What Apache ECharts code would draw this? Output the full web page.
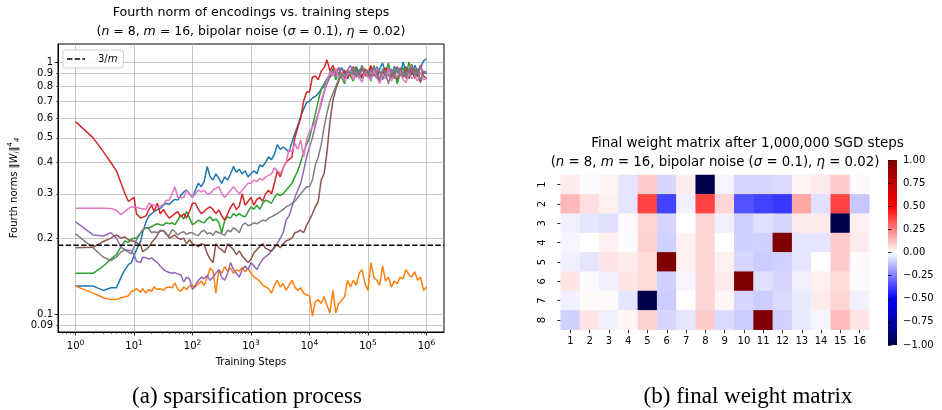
<!DOCTYPE html>
<html><head><meta charset="utf-8">
<script src="https://cdn.jsdelivr.net/npm/echarts@6/dist/echarts.min.js"></script>
<style>html,body{margin:0;padding:0;background:#fff}#c{width:942px;height:410px}</style>
</head><body><div id="c"></div>
<script>
// ---------- DATA ----------
const steps = [1,2,3,4,5,6,7,8,9,
10,11,13,14,16,18,20,22,25,28,32,35,40,45,50,56,63,71,79,89,
100,112,126,141,158,178,200,224,251,282,316,355,398,447,501,562,631,708,794,891,
1000,1122,1259,1413,1585,1778,1995,2239,2512,2818,3162,3548,3981,4467,5012,5623,6310,7079,7943,8913,
10000,11220,12589,14125,15849,17783,19953,22387,25119,28184,31623,35481,39811,44668,50119,56234,63096,70795,79433,89125,
100000,112202,125893,141254,158489,177828,199526,223872,251189,281838,316228,354813,398107,446684,501187,562341,630957,707946,794328,891251,
1000000];

const normBlue = [0.129,0.129,0.124,0.127,0.127,0.14,0.15,0.157,0.16,
0.17,0.18,0.195,0.21,0.232,0.245,0.25,0.255,0.26,0.262,0.27,0.275,0.272,0.28,0.285,0.283,0.295,0.305,0.31,0.30,
0.29,0.31,0.33,0.32,0.335,0.385,0.35,0.34,0.36,0.345,0.33,0.35,0.34,0.36,0.385,0.365,0.375,0.36,0.37,0.35,
0.36,0.37,0.36,0.39,0.385,0.40,0.42,0.41,0.43,0.47,0.45,0.46,0.45,0.44,0.48,0.52,0.56,0.61,0.65,0.69,
0.70,0.72,0.73,0.75,0.78,0.80,0.84,0.87,0.90,0.93,0.89,0.95,0.90,0.86,0.93,0.89,0.96,0.91,0.87,0.93,
0.89,0.95,0.91,0.86,0.94,0.99,0.90,0.93,0.87,0.96,0.92,0.88,1.00,0.91,0.94,0.89,0.97,0.92,0.95,1.01,
1.03];
const normOrange = [0.129,0.121,0.116,0.114,0.114,0.116,0.117,0.118,0.123,
0.124,0.126,0.122,0.126,0.121,0.125,0.123,0.128,0.125,0.126,0.124,0.127,0.128,0.127,0.133,0.125,0.123,0.128,0.125,0.129,
0.13,0.128,0.132,0.135,0.13,0.14,0.152,0.148,0.121,0.15,0.145,0.154,0.148,0.152,0.145,0.15,0.148,0.153,0.147,0.152,
0.145,0.14,0.138,0.135,0.13,0.128,0.126,0.121,0.13,0.136,0.128,0.132,0.124,0.13,0.136,0.128,0.124,0.127,0.121,0.119,
0.118,0.098,0.112,0.114,0.11,0.117,0.108,0.101,0.124,0.101,0.11,0.113,0.117,0.136,0.128,0.136,0.13,0.145,0.15,0.132,
0.124,0.16,0.14,0.136,0.13,0.155,0.135,0.14,0.128,0.135,0.132,0.14,0.138,0.15,0.143,0.14,0.147,0.136,0.14,0.124,
0.128];
const normGreen = [0.145,0.145,0.155,0.165,0.172,0.185,0.195,0.192,0.198,
0.20,0.20,0.21,0.215,0.22,0.22,0.222,0.225,0.228,0.226,0.225,0.23,0.228,0.23,0.226,0.236,0.247,0.238,0.255,0.24,
0.226,0.23,0.236,0.232,0.23,0.238,0.243,0.235,0.238,0.23,0.21,0.235,0.243,0.24,0.25,0.245,0.25,0.245,0.243,0.255,
0.266,0.26,0.27,0.26,0.275,0.283,0.28,0.275,0.29,0.30,0.295,0.30,0.31,0.32,0.33,0.35,0.37,0.40,0.44,0.47,
0.50,0.56,0.62,0.70,0.78,0.82,0.86,0.88,0.94,0.85,0.91,0.87,0.82,0.92,0.88,0.84,0.95,0.89,0.86,0.93,
0.90,0.84,0.97,0.88,0.92,0.86,0.91,0.99,0.87,0.93,0.82,0.90,0.95,0.88,1.00,0.91,0.87,0.94,0.89,0.92,
0.90];
const normRed = [0.58,0.50,0.44,0.40,0.37,0.33,0.30,0.28,0.285,
0.29,0.25,0.24,0.24,0.245,0.26,0.27,0.255,0.275,0.25,0.26,0.25,0.24,0.245,0.25,0.255,0.243,0.25,0.24,0.255,
0.275,0.275,0.26,0.25,0.255,0.262,0.266,0.26,0.25,0.259,0.245,0.236,0.25,0.265,0.275,0.26,0.268,0.30,0.27,0.28,
0.29,0.27,0.285,0.29,0.28,0.30,0.31,0.30,0.33,0.37,0.35,0.38,0.40,0.41,0.42,0.50,0.55,0.60,0.70,0.76,
0.76,0.87,0.88,0.85,0.92,0.95,1.02,0.92,0.97,0.90,0.95,0.88,0.93,0.86,0.91,0.96,0.89,0.92,0.87,0.94,
0.90,0.97,0.88,0.93,0.85,0.91,0.95,0.88,0.92,0.86,0.96,0.90,0.87,0.93,0.89,0.95,0.86,0.91,0.97,0.88,
0.86];
const normPurple = [0.232,0.206,0.204,0.21,0.20,0.184,0.18,0.179,0.178,
0.172,0.162,0.16,0.168,0.167,0.165,0.167,0.164,0.16,0.155,0.15,0.148,0.146,0.145,0.146,0.144,0.143,0.134,0.14,0.138,
0.125,0.13,0.136,0.14,0.138,0.142,0.136,0.14,0.145,0.15,0.14,0.136,0.145,0.16,0.15,0.145,0.14,0.15,0.155,0.15,
0.16,0.155,0.15,0.158,0.165,0.169,0.172,0.179,0.183,0.19,0.20,0.21,0.236,0.245,0.266,0.29,0.31,0.33,0.37,0.42,
0.46,0.50,0.56,0.62,0.68,0.76,0.82,0.87,0.92,0.88,0.95,0.90,0.86,0.93,0.97,0.89,0.92,0.86,0.94,0.90,
0.87,0.93,0.89,0.96,0.91,0.85,0.92,0.88,0.94,0.90,0.86,0.95,0.89,0.92,0.87,0.93,0.91,0.88,0.96,0.90,
0.92];
const normBrown = [0.183,0.184,0.194,0.20,0.206,0.20,0.202,0.197,0.195,
0.195,0.192,0.188,0.177,0.18,0.185,0.192,0.197,0.205,0.215,0.213,0.21,0.20,0.203,0.206,0.20,0.198,0.20,0.19,0.197,
0.19,0.188,0.185,0.19,0.188,0.174,0.165,0.16,0.19,0.183,0.18,0.175,0.19,0.185,0.18,0.172,0.178,0.17,0.165,0.16,
0.165,0.175,0.18,0.185,0.19,0.182,0.18,0.177,0.185,0.188,0.183,0.19,0.195,0.197,0.20,0.21,0.212,0.215,0.21,0.225,
0.236,0.25,0.266,0.28,0.34,0.36,0.44,0.58,0.70,0.78,0.84,0.90,0.86,0.92,0.88,0.94,0.87,0.91,0.95,0.88,
0.90,0.86,0.93,0.89,0.84,0.92,0.88,0.95,0.87,0.91,0.85,0.93,0.89,0.96,0.86,0.90,0.94,0.88,0.83,0.91,
0.90];
const normPink = [0.263,0.263,0.263,0.262,0.258,0.248,0.255,0.262,0.266,
0.266,0.265,0.262,0.258,0.26,0.275,0.272,0.27,0.266,0.268,0.272,0.283,0.283,0.30,0.32,0.29,0.29,0.29,0.31,0.30,
0.29,0.30,0.31,0.305,0.31,0.30,0.30,0.31,0.315,0.32,0.30,0.29,0.30,0.31,0.32,0.31,0.30,0.31,0.32,0.33,
0.33,0.34,0.335,0.345,0.34,0.35,0.355,0.36,0.38,0.37,0.36,0.38,0.40,0.45,0.44,0.475,0.45,0.49,0.42,0.49,
0.53,0.55,0.58,0.62,0.70,0.77,0.84,0.92,0.88,0.94,0.86,0.91,0.84,0.89,0.93,0.85,0.90,0.87,0.83,0.92,
0.88,0.85,0.93,0.87,0.82,0.90,0.86,0.94,0.84,0.89,0.87,0.92,0.85,0.83,0.90,0.86,0.88,0.84,0.91,0.85,
0.86];
const normGray = [0.208,0.183,0.168,0.163,0.168,0.176,0.18,0.176,0.173,
0.185,0.197,0.21,0.215,0.22,0.217,0.21,0.212,0.21,0.213,0.215,0.207,0.205,0.216,0.212,0.206,0.21,0.212,0.207,0.21,
0.21,0.206,0.205,0.212,0.215,0.208,0.21,0.205,0.213,0.21,0.208,0.205,0.215,0.212,0.22,0.216,0.21,0.225,0.23,0.224,
0.226,0.23,0.228,0.232,0.236,0.234,0.24,0.243,0.247,0.25,0.255,0.26,0.266,0.27,0.275,0.28,0.29,0.30,0.31,0.32,
0.32,0.34,0.39,0.42,0.47,0.55,0.63,0.70,0.75,0.80,0.86,0.90,0.87,0.93,0.89,0.95,0.88,0.92,0.97,0.90,
0.93,0.88,0.96,0.91,0.85,0.94,0.90,0.82,0.92,0.87,0.95,0.89,0.91,0.86,0.93,0.98,0.88,0.92,0.85,0.90,
0.91];

const m = 16;                 // threshold 3/m
const yTickValues = [0.09,0.1,0.2,0.3,0.4,0.5,0.6,0.7,0.8,0.9,1];
const yMajorTicks = [0.1,1];
const xMajorTicks = [1,10,100,1000,10000,100000,1000000];
const xMinorTicks = [0.6,0.7,0.8,0.9,2,3,4,5,6,7,8,9,20,30,40,50,60,70,80,90,200,300,400,500,600,700,800,900,
  2000,3000,4000,5000,6000,7000,8000,9000,20000,30000,40000,50000,60000,70000,80000,90000,
  200000,300000,400000,500000,600000,700000,800000,900000];

const colLabels = ['1','2','3','4','5','6','7','8','9','10','11','12','13','14','15','16'];
const rowLabels = ['1','2','3','4','5','6','7','8'];
const weightRow1 = [0.04,-0.01,0.02,-0.05,0.10,-0.08,0.04,-1.00,-0.02,-0.08,-0.08,-0.07,0.02,0.04,0.10,0.01];
const weightRow2 = [0.14,0.06,0.03,-0.05,0.37,-0.37,-0.03,0.37,0.08,-0.34,-0.37,-0.39,0.17,-0.06,0.37,-0.11];
const weightRow3 = [-0.03,-0.05,-0.06,0.01,0.08,-0.08,0.00,0.08,-0.03,-0.09,-0.06,-0.08,0.04,0.04,-1.00,0.03];
const weightRow4 = [-0.02,0.00,0.03,-0.01,0.09,-0.09,0.03,0.08,0.00,-0.09,-0.09,1.00,-0.05,-0.05,0.10,0.04];
const weightRow5 = [-0.03,-0.05,0.05,0.04,0.07,1.00,0.03,0.08,0.03,-0.08,-0.10,-0.09,-0.05,0.00,0.10,0.01];
const weightRow6 = [0.05,-0.01,-0.03,0.05,0.07,-0.09,-0.02,0.08,0.04,1.00,-0.06,-0.08,-0.03,0.03,0.07,0.01];
const weightRow7 = [-0.03,0.01,0.01,-0.05,-1.00,-0.10,0.00,0.08,0.02,-0.08,-0.10,-0.07,-0.04,0.04,0.08,-0.03];
const weightRow8 = [-0.09,0.05,-0.03,0.02,0.09,-0.08,-0.05,0.10,-0.07,-0.10,1.00,-0.09,-0.04,-0.02,0.13,0.05];

// ---------- BUILD ----------
const F = 'DejaVu Sans';
const X_MIN = Math.pow(10,-0.3), X_MAX = Math.pow(10,6.3);
const Y_MIN = 0.0848, Y_MAX = 1.179;
const GRIDC = '#b9b9b9';
const SEISMIC = ['#00004c','#0000ff','#ffffff','#ff0000','#7f0000'];

const lineSets = [
  [normBlue,'#1f77b4'],[normOrange,'#ff7f0e'],[normGreen,'#2ca02c'],[normRed,'#d62728'],
  [normPurple,'#9467bd'],[normBrown,'#8c564b'],[normPink,'#e377c2'],[normGray,'#7f7f7f']
];
const series = lineSets.map(([vals,col],k)=>({
  type:'line', xAxisIndex:0, yAxisIndex:0, silent:true,
  data: steps.map((s,i)=>[s, vals[i]]),
  symbol:'none', showSymbol:false, z:2+k,
  lineStyle:{color:col, width:1.5}, itemStyle:{color:col}
}));
series.push({
  type:'line', name:'3/m', xAxisIndex:0, yAxisIndex:0, silent:true, z:20,
  data:[[X_MIN, 3/m],[X_MAX, 3/m]], symbol:'none', showSymbol:false,
  lineStyle:{color:'#000', width:1.5, type:[5.4,2.3]}, itemStyle:{color:'#000'}
});
const weightRows = [weightRow1,weightRow2,weightRow3,weightRow4,weightRow5,weightRow6,weightRow7,weightRow8];
const heatData = [];
weightRows.forEach((row,r)=>row.forEach((v,c)=>heatData.push([c,r,v])));
const heatIndex = series.length;
series.push({
  type:'heatmap', xAxisIndex:2, yAxisIndex:2, data:heatData, silent:true,
  itemStyle:{borderWidth:0}, emphasis:{disabled:true}
});

const txt = {fontFamily:F, fontSize:10, color:'#000'};
const supRich = {
  b:{fontFamily:F, fontSize:10, lineHeight:14, color:'#000'},
  s:{fontFamily:F, fontSize:7.5, lineHeight:8, verticalAlign:'top', color:'#000'}
};
const mathLine = '({i|n} = 8, {i|m} = 16, bipolar noise ({i|\u03c3} = 0.1), {i|\u03b7} = 0.02)';

const option = {
  animation:false,
  backgroundColor:'#fff',
  grid:[
    {left:58, top:44, width:386, height:288, show:true, borderColor:'#000', borderWidth:1, backgroundColor:'transparent'},
    {left:560.7, top:175, width:308.6, height:154.7},
    {left:888, top:160, width:9, height:185}
  ],
  xAxis:[
    {type:'log', gridIndex:0, min:X_MIN, max:X_MAX, position:'bottom',
     axisLine:{show:true, lineStyle:{color:'#000', width:1}},
     axisTick:{show:true, length:3.5, customValues:xMajorTicks, lineStyle:{color:'#000', width:0.8}},
     axisLabel:{customValues:xMajorTicks, margin:7, ...txt, rich:supRich,
       formatter:v=>'{b|10}{s|'+Math.round(Math.log10(v))+'}'},
     splitLine:{show:true, lineStyle:{color:GRIDC, width:0.8}}, minorTick:{show:false}, minorSplitLine:{show:false}},
    {type:'log', gridIndex:0, min:X_MIN, max:X_MAX, position:'bottom',
     axisLine:{show:false},
     axisTick:{show:true, length:2, customValues:xMinorTicks, lineStyle:{color:'#000', width:0.6}},
     axisLabel:{show:false}, splitLine:{show:false}},
    {type:'category', gridIndex:1, data:colLabels, position:'bottom',
     axisLine:{show:false}, axisTick:{show:true, alignWithLabel:true, length:3.5, lineStyle:{color:'#000', width:0.8}},
     axisLabel:{...txt, margin:7, interval:0}, splitLine:{show:false}},
    {type:'value', gridIndex:2, show:false, min:0, max:1}
  ],
  yAxis:[
    {type:'log', gridIndex:0, min:Y_MIN, max:Y_MAX, position:'left',
     axisLine:{show:true, lineStyle:{color:'#000', width:1}},
     axisTick:{show:true, length:2, customValues:yTickValues, lineStyle:{color:'#000', width:0.6}},
     axisLabel:{customValues:yTickValues, margin:5, ...txt,
       formatter:v=>String(parseFloat((+v).toPrecision(2)))},
     splitLine:{show:true, lineStyle:{color:GRIDC, width:0.8}}, minorTick:{show:false}},
    {type:'log', gridIndex:0, min:Y_MIN, max:Y_MAX, position:'left',
     axisLine:{show:false},
     axisTick:{show:true, length:3.5, customValues:yMajorTicks, lineStyle:{color:'#000', width:0.8}},
     axisLabel:{show:false}, splitLine:{show:false}},
    {type:'category', gridIndex:1, data:rowLabels, inverse:true, position:'left',
     axisLine:{show:false}, axisTick:{show:true, alignWithLabel:true, length:3.5, lineStyle:{color:'#000', width:0.8}},
     axisLabel:{...txt, rotate:90, margin:13, interval:0}, splitLine:{show:false}},
    {type:'value', gridIndex:2, min:-1, max:1, interval:0.25, position:'right',
     axisLine:{show:false},
     axisTick:{show:true, length:3.5, lineStyle:{color:'#000', width:0.8}},
     axisLabel:{...txt, margin:6, formatter:v=>(+v).toFixed(2).replace('-','\u2212')},
     splitLine:{show:false}}
  ],
  visualMap:{
    type:'continuous', show:false, min:-1, max:1, seriesIndex:heatIndex,
    inRange:{color:SEISMIC}
  },
  legend:{
    data:[{name:'3/m', icon:'path://M0,0H5.4V1.5H0Z M7.7,0H13.1V1.5H7.7Z M15.4,0H18V1.5H15.4Z'}],
    left:63, top:50, orient:'vertical', selectedMode:false,
    padding:[4,6,4,4], itemWidth:18, itemHeight:1.5,
    backgroundColor:'rgba(255,255,255,0.85)', borderColor:'#d0d0d0', borderWidth:1, borderRadius:3,
    formatter:()=>'{r|3/}{i|m}',
    textStyle:{...txt, padding:[0,0,0,8], rich:{
      r:{fontFamily:F, fontSize:10, color:'#000', lineHeight:12},
      i:{fontFamily:F, fontSize:10, fontStyle:'italic', color:'#000', lineHeight:12}}}
  },
  graphic:[
    // colour bar (same seismic ramp as the visualMap, top = +1)
    {type:'rect', silent:true, z:-1, shape:{x:888, y:160, width:9, height:185},
     style:{fill:new echarts.graphic.LinearGradient(0,0,0,1,
       SEISMIC.slice().reverse().map((c,i,a)=>({offset:i/(a.length-1), color:c})))}},
    {type:'text', x:251, y:13, silent:true, style:{text:'Fourth norm of encodings vs. training steps',
      fontFamily:F, fontSize:12.7, fill:'#000', align:'center', verticalAlign:'middle'}},
    {type:'text', x:251, y:32, silent:true, style:{
      text:mathLine,
      fontFamily:F, fontSize:12.5, fill:'#000', align:'center', verticalAlign:'middle',
      rich:{i:{fontFamily:F, fontSize:12.5, fontStyle:'italic', fill:'#000'}}}},
    {type:'text', x:251, y:362, silent:true, style:{text:'Training Steps',
      fontFamily:F, fontSize:10, fill:'#000', align:'center', verticalAlign:'middle'}},
    {type:'text', x:14, y:188, rotation:Math.PI/2, silent:true, style:{
      text:'Fourth norms \u2016{i|W}{sb|i}\u2016{sp|4}{sb|4}',
      fontFamily:F, fontSize:10, fill:'#000', align:'center', verticalAlign:'middle',
      rich:{
        i:{fontFamily:F, fontSize:10, fontStyle:'italic', fill:'#000', lineHeight:14},
        sb:{fontFamily:F, fontSize:7, fontStyle:'italic', fill:'#000', lineHeight:8, verticalAlign:'bottom'},
        sp:{fontFamily:F, fontSize:7, fill:'#000', lineHeight:8, verticalAlign:'top'}
      }}},
    {type:'text', x:747.5, y:143, silent:true, style:{text:'Final weight matrix after 1,000,000 SGD steps',
      fontFamily:F, fontSize:13.5, fill:'#000', align:'center', verticalAlign:'middle'}},
    {type:'text', x:715, y:163, silent:true, style:{
      text:mathLine,
      fontFamily:F, fontSize:13.3, fill:'#000', align:'center', verticalAlign:'middle',
      rich:{i:{fontFamily:F, fontSize:13.3, fontStyle:'italic', fill:'#000'}}}},
    {type:'text', x:247, y:397, silent:true, style:{text:'(a) sparsification process',
      fontFamily:'Liberation Serif', fontSize:23, fill:'#000', align:'center', verticalAlign:'middle'}},
    {type:'text', x:748, y:397, silent:true, style:{text:'(b) final weight matrix',
      fontFamily:'Liberation Serif', fontSize:23, fill:'#000', align:'center', verticalAlign:'middle'}}
  ],
  series
};
const chart = echarts.init(document.getElementById('c'), null, {renderer:'canvas'});
chart.setOption(option);
</script>
</body></html>
